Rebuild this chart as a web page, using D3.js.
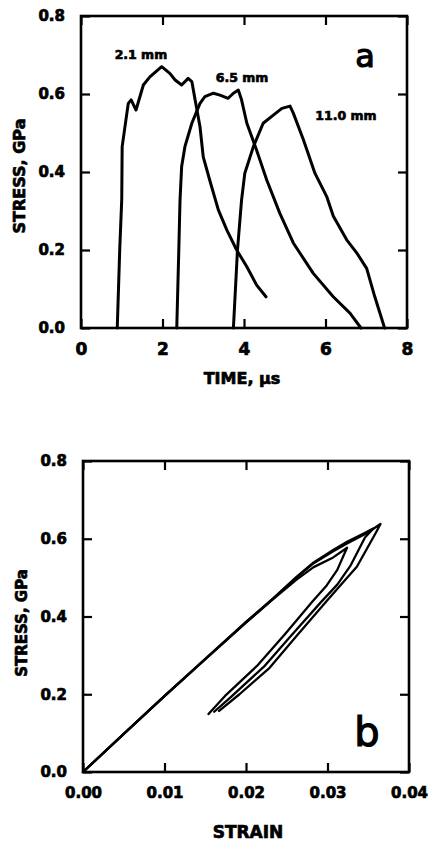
<!DOCTYPE html>
<html>
  <head>
    <meta charset="utf-8" />
    <script src="https://d3js.org/d3.v7.min.js"></script>
    <style>
      body { margin: 0; background: #fff; }
      svg { display: block; }
      text { font-family: "DejaVu Sans", sans-serif; font-weight: bold; fill: #000; }
      text.heavy { stroke: #000; stroke-width: 0.7px; }
      .tick line { stroke: #000; stroke-width: 2.2; }
      .domain { display: none; }
    </style>
  </head>
  <body>
    <svg width="428" height="842"></svg>
    <script>
      // panel a: stress vs time, [time µs, stress GPa]
      const curve21 = [[0.89,0],[0.95,0.2],[1.0,0.33],[1.01,0.465],[1.16,0.576],[1.23,0.585],[1.35,0.559],
        [1.53,0.623],[1.69,0.644],[1.98,0.67],[2.18,0.653],[2.31,0.636],[2.47,0.623],[2.63,0.64],
        [2.72,0.632],[2.8,0.585],[2.92,0.516],[3.0,0.439],[3.17,0.375],[3.37,0.303],[3.58,0.251],
        [3.82,0.2],[4.07,0.157],[4.31,0.11],[4.54,0.08]];
      const curve65 = [[2.35,0],[2.4,0.2],[2.43,0.328],[2.47,0.414],[2.55,0.465],[2.72,0.525],[2.92,0.576],
        [3.04,0.593],[3.25,0.602],[3.41,0.597],[3.61,0.589],[3.74,0.602],[3.86,0.61],[3.94,0.585],
        [4.07,0.525],[4.31,0.456],[4.56,0.379],[4.88,0.294],[5.21,0.218],[5.7,0.14],[6.19,0.08],
        [6.6,0.038],[6.87,0]];
      const curve110 = [[3.74,0],[3.84,0.2],[3.94,0.328],[4.02,0.397],[4.23,0.465],[4.47,0.525],[4.72,0.546],
        [4.93,0.563],[5.13,0.569],[5.21,0.551],[5.46,0.482],[5.74,0.397],[6.03,0.337],[6.19,0.287],
        [6.52,0.226],[6.77,0.192],[7.01,0.153],[7.21,0.08],[7.45,0]];
      const curveLabels = ["2.1 mm", "6.5 mm", "11.0 mm"];
      const timeTicks = [0, 2, 4, 6, 8];
      const stressTicks = [0, 0.2, 0.4, 0.6, 0.8];

      // panel b: stress vs strain cycles, [strain, stress GPa]
      const cycle1 = [[0,0],[0.005,0.098],[0.01,0.195],[0.015,0.29],[0.02,0.384],[0.0234,0.446],[0.0262,0.495],
        [0.0283,0.527],[0.0307,0.552],[0.0324,0.577],[0.032,0.558],[0.0312,0.52],[0.0299,0.48],
        [0.0281,0.437],[0.0248,0.355],[0.0214,0.274],[0.0174,0.195],[0.0154,0.149]];
      const cycle2 = [[0,0],[0.005,0.098],[0.01,0.195],[0.015,0.29],[0.02,0.385],[0.0234,0.447],[0.0262,0.5],
        [0.0283,0.537],[0.0307,0.568],[0.0324,0.588],[0.0348,0.614],[0.0365,0.638],[0.0359,0.614],
        [0.0336,0.528],[0.032,0.49],[0.0299,0.44],[0.0262,0.35],[0.0229,0.268],[0.0192,0.2],[0.0167,0.157]];
      const cycle3 = [[0,0],[0.01,0.196],[0.02,0.386],[0.0234,0.448],[0.0262,0.502],[0.0283,0.539],
        [0.0307,0.571],[0.0324,0.592],[0.0345,0.614],[0.0356,0.626],[0.0346,0.603],[0.0328,0.53],
        [0.0312,0.482],[0.0292,0.437],[0.0255,0.35],[0.0222,0.271],[0.0182,0.194],[0.0161,0.155]];
      const strainTicks = [0, 0.01, 0.02, 0.03, 0.04];

      const svg = d3.select("svg");

      function frame(x, y, xTicks, yTicks, xFmt, yFmt) {
        const g = svg.append("g");
        const [x0, x1] = x.range();
        const [y0, y1] = y.range();
        // inward ticks on four sides, labels on left and bottom
        g.append("g").attr("transform", `translate(0,${y0})`)
          .call(d3.axisBottom(x).tickValues(xTicks).tickSizeInner(-9).tickSizeOuter(0).tickPadding(15).tickFormat(xFmt))
          .call(s => s.selectAll("text").attr("class", "xl heavy"));
        g.append("g").attr("transform", `translate(0,${y1})`)
          .call(d3.axisTop(x).tickValues(xTicks).tickSizeInner(-9).tickSizeOuter(0).tickFormat(""));
        g.append("g").attr("transform", `translate(${x0},0)`)
          .call(d3.axisLeft(y).tickValues(yTicks).tickSizeInner(-9).tickSizeOuter(0).tickPadding(16).tickFormat(yFmt))
          .call(s => s.selectAll("text").attr("class", "yl heavy"));
        g.append("g").attr("transform", `translate(${x1},0)`)
          .call(d3.axisRight(y).tickValues(yTicks).tickSizeInner(-9).tickSizeOuter(0).tickFormat(""));
        g.selectAll("g").attr("font-family", null);
        g.append("rect")
          .attr("x", x0).attr("y", y1)
          .attr("width", x1 - x0).attr("height", y0 - y1)
          .attr("fill", "none").attr("stroke", "#000").attr("stroke-width", 2.6);
        return g;
      }

      function plotLines(x, y, series, width) {
        const line = d3.line().x(d => x(d[0])).y(d => y(d[1])).curve(d3.curveLinear);
        svg.append("g").selectAll("path").data(series).join("path")
          .attr("d", line)
          .attr("fill", "none").attr("stroke", "#000")
          .attr("stroke-width", width)
          .attr("stroke-linejoin", "round").attr("stroke-linecap", "round");
      }

      // ---- panel a
      const xa = d3.scaleLinear().domain([0, 8]).range([81, 407]);
      const ya = d3.scaleLinear().domain([0, 0.8]).range([328, 16]);
      const ga = frame(xa, ya, timeTicks, stressTicks, d3.format("d"), d3.format(".1f"));
      ga.selectAll("text.xl").style("font-size", "17px");
      ga.selectAll("text.yl").style("font-size", "15px");
      plotLines(xa, ya, [curve21, curve65, curve110], 3);

      const labelPos = [[1.47, 0.69], [3.95, 0.63], [6.5, 0.533]];
      svg.append("g").selectAll("text").data(curveLabels).join("text")
        .attr("class", "heavy")
        .attr("x", (d, i) => xa(labelPos[i][0]))
        .attr("y", (d, i) => ya(labelPos[i][1]))
        .attr("text-anchor", "middle")
        .style("font-size", "12.5px")
        .text(d => d);

      svg.append("text").attr("x", 365).attr("y", 67).attr("text-anchor", "middle")
        .style("font-size", "32px").style("font-weight", "normal")
        .style("stroke", "#000").style("stroke-width", "1.2px").text("a");
      svg.append("text").attr("class", "heavy").attr("x", 242).attr("y", 384).attr("text-anchor", "middle")
        .style("font-size", "16px").text("TIME, μs");
      svg.append("text").attr("class", "heavy").attr("transform", "translate(25,176) rotate(-90)")
        .attr("text-anchor", "middle").style("font-size", "16px").text("STRESS, GPa");

      // ---- panel b
      const xb = d3.scaleLinear().domain([0, 0.04]).range([83, 409]);
      const yb = d3.scaleLinear().domain([0, 0.8]).range([772, 461]);
      const gb = frame(xb, yb, strainTicks, stressTicks, d3.format(".2f"), d3.format(".1f"));
      gb.selectAll("text.xl").style("font-size", "15px");
      gb.selectAll("text.yl").style("font-size", "15px");
      plotLines(xb, yb, [cycle1, cycle2, cycle3], 2.3);

      svg.append("text").attr("x", 367).attr("y", 746).attr("text-anchor", "middle")
        .style("font-size", "40px").style("font-weight", "normal")
        .style("stroke", "#000").style("stroke-width", "1.2px").text("b");
      svg.append("text").attr("class", "heavy").attr("x", 248).attr("y", 838).attr("text-anchor", "middle")
        .style("font-size", "17px").text("STRAIN");
      svg.append("text").attr("class", "heavy").attr("transform", "translate(27,623) rotate(-90)")
        .attr("text-anchor", "middle").style("font-size", "15px").text("STRESS, GPa");
    </script>
  </body>
</html>
